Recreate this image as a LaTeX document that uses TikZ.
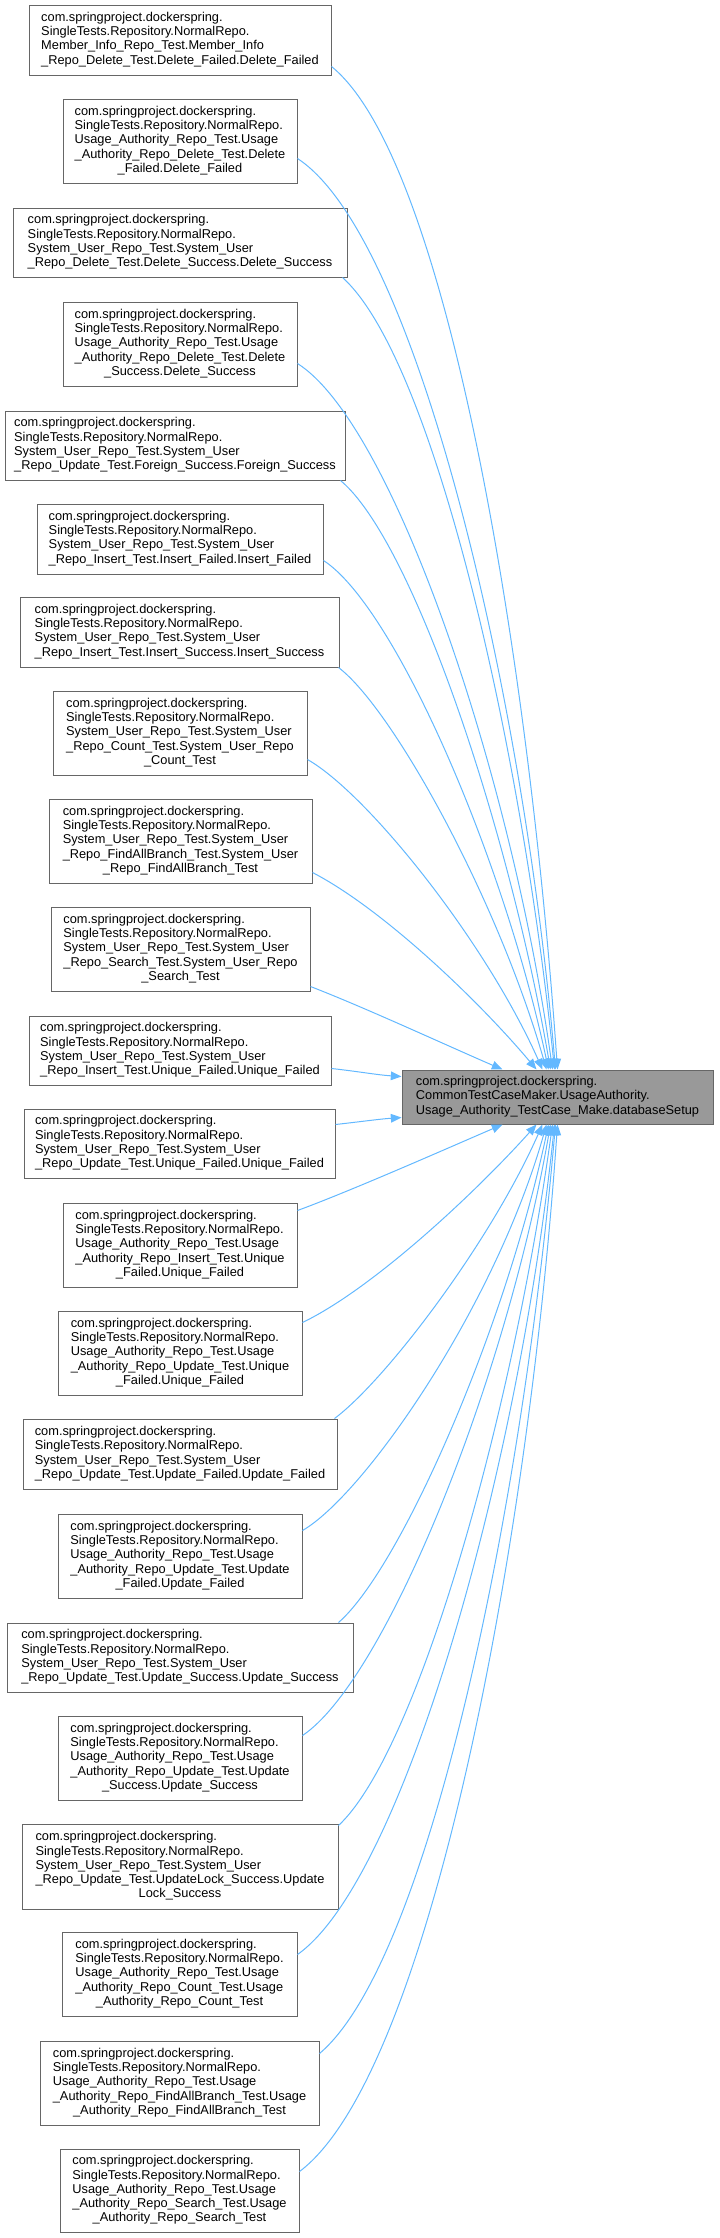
\documentclass[tikz,border=0pt]{standalone}
\usepackage{fontspec}
\setmainfont{Liberation Sans}
\usetikzlibrary{arrows.meta,calc}
\definecolor{edgec}{HTML}{63B8FF}
\definecolor{bordc}{HTML}{666666}
\definecolor{tfill}{HTML}{999999}
\newcommand\lastln[1]{\multicolumn{1}{@{}c@{}}{#1}}
\newcommand\btxt[1]{\begin{tabular}{@{}l@{}}#1\end{tabular}}
\newcommand\pa{com.springproject.dockerspring.\\SingleTests.Repository.NormalRepo.\\}
\tikzset{
  boxnode/.style={draw=bordc, line width=0.75pt, fill=white, inner sep=0pt, anchor=center,
    font=\fontsize{9.6}{10.7}\selectfont},
  tgtnode/.style={boxnode, fill=tfill},
  edge/.style={draw=edgec, line width=0.75pt, -{Triangle[length=8pt,width=6.5pt]}}
}
\begin{document}
\begin{tikzpicture}[x=0.75pt,y=-0.75pt]
\useasboundingbox (0,0) rectangle (719,2238);
% target
\node[tgtnode, minimum width=233.25pt, minimum height=40.5pt] (t) at (557.5,1097) {\btxt{com.springproject.dockerspring.\\CommonTestCaseMaker.UsageAuthority.\\\lastln{Usage\_Authority\_TestCase\_Make.databaseSetup}}};
% callers
\node[boxnode, minimum width=226.5pt, minimum height=52.5pt] (b1) at (180,40) {\btxt{\pa Member\_Info\_Repo\_Test.Member\_Info\\\lastln{\_Repo\_Delete\_Test.Delete\_Failed.Delete\_Failed}}};
\node[boxnode, minimum width=175.5pt, minimum height=63pt] (b2) at (180,141) {\btxt{\pa Usage\_Authority\_Repo\_Test.Usage\\\_Authority\_Repo\_Delete\_Test.Delete\\\lastln{\_Failed.Delete\_Failed}}};
\node[boxnode, minimum width=250.5pt, minimum height=51.75pt] (b3) at (180,242.5) {\btxt{\pa System\_User\_Repo\_Test.System\_User\\\lastln{\_Repo\_Delete\_Test.Delete\_Success.Delete\_Success}}};
\node[boxnode, minimum width=175.5pt, minimum height=63pt] (b4) at (180,344) {\btxt{\pa Usage\_Authority\_Repo\_Test.Usage\\\_Authority\_Repo\_Delete\_Test.Delete\\\lastln{\_Success.Delete\_Success}}};
\node[boxnode, minimum width=255pt, minimum height=51.75pt] (b5) at (175,445.5) {\btxt{\pa System\_User\_Repo\_Test.System\_User\\\lastln{\_Repo\_Update\_Test.Foreign\_Success.Foreign\_Success}}};
\node[boxnode, minimum width=214.5pt, minimum height=52.5pt] (b6) at (180,539) {\btxt{\pa System\_User\_Repo\_Test.System\_User\\\lastln{\_Repo\_Insert\_Test.Insert\_Failed.Insert\_Failed}}};
\node[boxnode, minimum width=239.25pt, minimum height=52.5pt] (b7) at (179.5,632) {\btxt{\pa System\_User\_Repo\_Test.System\_User\\\lastln{\_Repo\_Insert\_Test.Insert\_Success.Insert\_Success}}};
\node[boxnode, minimum width=190.5pt, minimum height=63pt] (b8) at (180,733) {\btxt{\pa System\_User\_Repo\_Test.System\_User\\\_Repo\_Count\_Test.System\_User\_Repo\\\lastln{\_Count\_Test}}};
\node[boxnode, minimum width=197.25pt, minimum height=63pt] (b9) at (180.5,841) {\btxt{\pa System\_User\_Repo\_Test.System\_User\\\_Repo\_FindAllBranch\_Test.System\_User\\\lastln{\_Repo\_FindAllBranch\_Test}}};
\node[boxnode, minimum width=194.25pt, minimum height=63pt] (b10) at (180.5,949) {\btxt{\pa System\_User\_Repo\_Test.System\_User\\\_Repo\_Search\_Test.System\_User\_Repo\\\lastln{\_Search\_Test}}};
\node[boxnode, minimum width=226.5pt, minimum height=51.75pt] (b11) at (180,1050.5) {\btxt{\pa System\_User\_Repo\_Test.System\_User\\\lastln{\_Repo\_Insert\_Test.Unique\_Failed.Unique\_Failed}}};
\node[boxnode, minimum width=233.25pt, minimum height=51.75pt] (b12) at (179.5,1143.5) {\btxt{\pa System\_User\_Repo\_Test.System\_User\\\lastln{\_Repo\_Update\_Test.Unique\_Failed.Unique\_Failed}}};
\node[boxnode, minimum width=175.5pt, minimum height=63pt] (b13) at (180,1245) {\btxt{\pa Usage\_Authority\_Repo\_Test.Usage\\\_Authority\_Repo\_Insert\_Test.Unique\\\lastln{\_Failed.Unique\_Failed}}};
\node[boxnode, minimum width=183pt, minimum height=63pt] (b14) at (180,1353) {\btxt{\pa Usage\_Authority\_Repo\_Test.Usage\\\_Authority\_Repo\_Update\_Test.Unique\\\lastln{\_Failed.Unique\_Failed}}};
\node[boxnode, minimum width=235.5pt, minimum height=52.5pt] (b15) at (180,1454) {\btxt{\pa System\_User\_Repo\_Test.System\_User\\\lastln{\_Repo\_Update\_Test.Update\_Failed.Update\_Failed}}};
\node[boxnode, minimum width=183pt, minimum height=63pt] (b16) at (180,1556) {\btxt{\pa Usage\_Authority\_Repo\_Test.Usage\\\_Authority\_Repo\_Update\_Test.Update\\\lastln{\_Failed.Update\_Failed}}};
\node[boxnode, minimum width=259.5pt, minimum height=51.75pt] (b17) at (180,1657.5) {\btxt{\pa System\_User\_Repo\_Test.System\_User\\\lastln{\_Repo\_Update\_Test.Update\_Success.Update\_Success}}};
\node[boxnode, minimum width=183pt, minimum height=63pt] (b18) at (180,1758) {\btxt{\pa Usage\_Authority\_Repo\_Test.Usage\\\_Authority\_Repo\_Update\_Test.Update\\\lastln{\_Success.Update\_Success}}};
\node[boxnode, minimum width=237pt, minimum height=63.75pt] (b19) at (180,1866.5) {\btxt{\pa System\_User\_Repo\_Test.System\_User\\\_Repo\_Update\_Test.UpdateLock\_Success.Update\\\lastln{Lock\_Success}}};
\node[boxnode, minimum width=176.25pt, minimum height=63pt] (b20) at (179.5,1974) {\btxt{\pa Usage\_Authority\_Repo\_Test.Usage\\\_Authority\_Repo\_Count\_Test.Usage\\\lastln{\_Authority\_Repo\_Count\_Test}}};
\node[boxnode, minimum width=209.25pt, minimum height=63pt] (b21) at (179.5,2083) {\btxt{\pa Usage\_Authority\_Repo\_Test.Usage\\\_Authority\_Repo\_FindAllBranch\_Test.Usage\\\lastln{\_Authority\_Repo\_FindAllBranch\_Test}}};
\node[boxnode, minimum width=179.25pt, minimum height=62.25pt] (b22) at (179.5,2190.5) {\btxt{\pa Usage\_Authority\_Repo\_Test.Usage\\\_Authority\_Repo\_Search\_Test.Usage\\\lastln{\_Authority\_Repo\_Search\_Test}}};
% edges into top of target
\draw[edge] ($(b1.north east)+(0,62)$) .. controls (448,161) and (529,661) .. ($(t.north west)+(156,0)$);
\draw[edge] ($(b2.north east)+(0,60)$) .. controls (416,236) and (523,691) .. ($(t.north west)+(154,0)$);
\draw[edge] ($(b3.south east)+(-5,0)$) .. controls (433,359) and (521,742) .. ($(t.north west)+(153,0)$);
\draw[edge] ($(b4.north east)+(0,62)$) .. controls (393,424) and (511,773) .. ($(t.north west)+(151,0)$);
\draw[edge] ($(b5.south east)+(-5,0)$) .. controls (412,540) and (508,824) .. ($(t.north west)+(149,0)$);
\draw[edge] ($(b6.north east)+(0,57)$) .. controls (394,606) and (503,855) .. ($(t.north west)+(147,0)$);
\draw[edge] ($(b7.south east)+(-1,0)$) .. controls (392,708) and (497,897) .. ($(t.north west)+(145,0)$);
\draw[edge] ($(b8.north east)+(0,69)$) .. controls (368,794) and (486,942) .. ($(t.north west)+(141,0)$);
\draw[edge] ($(b9.north east)+(0,74)$) .. controls (383,909) and (479,1001) .. ($(t.north west)+(135,0)$);
\draw[edge] ($(b10.north east)+(0,80)$) .. controls (366,1008) and (448,1046) .. ($(t.north west)+(101,0)$);
% edges into left side
\draw[edge] ($(b11.north east)+(0,53)$) .. controls (355,1071) and (378,1075) .. ($(t.north west)+(0,7)$);
\draw[edge] ($(b12.north east)+(0,16)$) .. controls (358,1122) and (380,1119) .. ($(t.south west)+(0,-7)$);
% edges into bottom of target
\draw[edge] ($(b13.north east)+(0,8)$) .. controls (353,1190) and (448,1148) .. ($(t.south west)+(101,0)$);
\draw[edge] ($(b14.north east)+(0,12)$) .. controls (374,1288) and (477,1191) .. ($(t.south west)+(135,0)$);
\draw[edge] ($(b15.north east)+(-3,0)$) .. controls (386,1380) and (490,1243) .. ($(t.south west)+(141,0)$);
\draw[edge] ($(b16.north east)+(0,17)$) .. controls (364,1495) and (495,1307) .. ($(t.south west)+(145,0)$);
\draw[edge] ($(b17.north east)+(-15,0)$) .. controls (399,1570) and (504,1334) .. ($(t.south west)+(147,0)$);
\draw[edge] ($(b18.north east)+(0,20)$) .. controls (384,1681) and (505,1385) .. ($(t.south west)+(149,0)$);
\draw[edge] ($(b19.north east)+(0,2)$) .. controls (418,1751) and (512,1416) .. ($(t.south west)+(151,0)$);
\draw[edge] ($(b20.north east)+(0,23)$) .. controls (403,1880) and (518,1472) .. ($(t.south west)+(153,0)$);
\draw[edge] ($(b21.north east)+(0,13)$) .. controls (429,1961) and (522,1508) .. ($(t.south west)+(154,0)$);
\draw[edge] ($(b22.north east)+(0,23)$) .. controls (428,2075) and (528,1553) .. ($(t.south west)+(156,0)$);
\end{tikzpicture}
\end{document}
